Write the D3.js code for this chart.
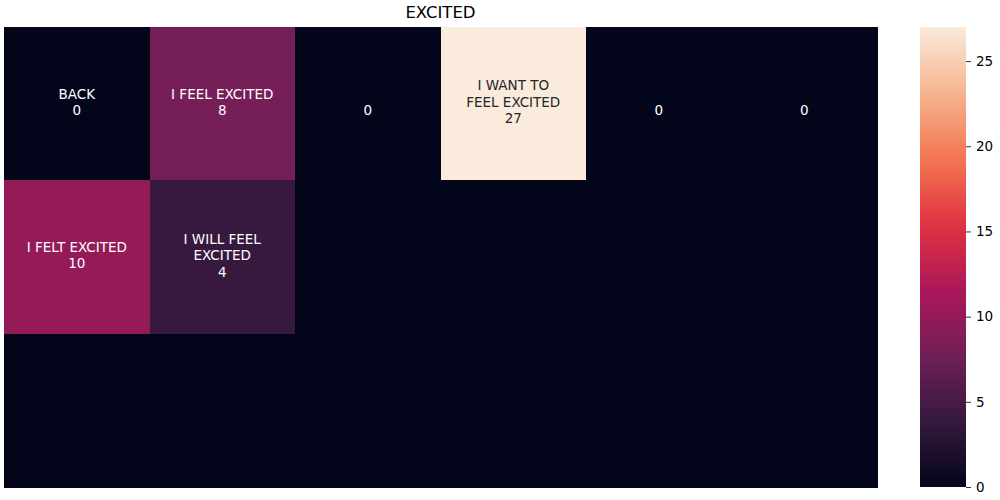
<!DOCTYPE html>
<html>
<head>
<meta charset="utf-8">
<script src="https://cdn.jsdelivr.net/npm/d3@7"></script>
<style>
  html, body { margin: 0; padding: 0; background: #fff; }
  svg { display: block; font-family: "DejaVu Sans", sans-serif; }
</style>
</head>
<body>
<svg id="chart" width="1000" height="500"></svg>
<script>
// ---- data ----
const title = "EXCITED";
const columns = [0, 1, 2, 3, 4, 5];
const rows = [0, 1, 2];
const row0Values = [0, 8, 0, 27, 0, 0];
const row1Values = [10, 4, 0, 0, 0, 0];
const row2Values = [0, 0, 0, 0, 0, 0];
const row0Labels = ["BACK\n0", "I FEEL EXCITED\n8", "\n0", "I WANT TO\nFEEL EXCITED\n27", "\n0", "\n0"];
const row1Labels = ["I FELT EXCITED\n10", "I WILL FEEL\nEXCITED\n4", "", "", "", ""];
const row2Labels = ["", "", "", "", "", ""];
const colorMin = 0;
const colorMax = 27;
const colorTicks = [0, 5, 10, 15, 20, 25];
// rocket colormap stops
const rocketStops = ["#03051a", "#35193e", "#701f57", "#ad1759", "#e13342", "#f37651", "#f6b48f", "#faebdd"];

const values = [row0Values, row1Values, row2Values];
const labels = [row0Labels, row1Labels, row2Labels];

const svg = d3.select("#chart");
const plot = { left: 4, right: 877, top: 27, bottom: 487 };
const cbar = { left: 920, right: 966 };

const x = d3.scaleBand().domain(columns).range([plot.left, plot.right]).padding(0);
const y = d3.scaleBand().domain(rows).range([plot.top, plot.bottom]).padding(0);

const rocket = d3.scaleLinear()
  .domain(rocketStops.map((_, i) => i / (rocketStops.length - 1)))
  .range(rocketStops)
  .interpolate(d3.interpolateRgb);
const color = v => rocket((v - colorMin) / (colorMax - colorMin));

const cells = [];
rows.forEach(r => columns.forEach(c => cells.push({ r, c, v: values[r][c], label: labels[r][c] })));

svg.append("g").selectAll("rect").data(cells).join("rect")
  .attr("x", d => x(d.c))
  .attr("y", d => y(d.r))
  .attr("width", x.bandwidth() + 0.5)
  .attr("height", y.bandwidth() + 0.5)
  .attr("fill", d => color(d.v))
  .attr("shape-rendering", "crispEdges");

// luminance-based text colour like seaborn
function relLum(c) {
  const rgb = d3.rgb(c);
  const f = v => { v /= 255; return v <= 0.03928 ? v / 12.92 : Math.pow((v + 0.055) / 1.055, 2.4); };
  return 0.2126 * f(rgb.r) + 0.7152 * f(rgb.g) + 0.0722 * f(rgb.b);
}

const lineH = 16.5;
const tg = svg.append("g").attr("font-size", "13.5px");
cells.filter(d => d.label !== "").forEach(d => {
  const lines = d.label.split("\n");
  const cx = x(d.c) + x.bandwidth() / 2;
  const cy = y(d.r) + y.bandwidth() / 2 - 1.5;
  const txt = tg.append("text")
    .attr("x", cx)
    .attr("text-anchor", "middle")
    .attr("fill", relLum(color(d.v)) > 0.408 ? "#262626" : "#ffffff");
  lines.forEach((ln, i) => {
    txt.append("tspan")
      .attr("x", cx)
      .attr("y", cy + (i - (lines.length - 1) / 2) * lineH)
      .attr("dy", "0.35em")
      .text(ln);
  });
});

// title
svg.append("text")
  .attr("x", (plot.left + plot.right) / 2)
  .attr("y", 18)
  .attr("text-anchor", "middle")
  .attr("font-size", "16.5px")
  .attr("fill", "#000")
  .text(title);

// colorbar
const defs = svg.append("defs");
const grad = defs.append("linearGradient").attr("id", "cbgrad")
  .attr("x1", 0).attr("y1", 1).attr("x2", 0).attr("y2", 0);
d3.range(0, 1.0001, 0.02).forEach(t => {
  grad.append("stop").attr("offset", t).attr("stop-color", rocket(t));
});
svg.append("rect")
  .attr("x", cbar.left).attr("y", plot.top)
  .attr("width", cbar.right - cbar.left)
  .attr("height", plot.bottom - plot.top)
  .attr("fill", "url(#cbgrad)");

const cscale = d3.scaleLinear().domain([colorMin, colorMax]).range([plot.bottom, plot.top]);
const axis = d3.axisRight(cscale).tickValues(colorTicks).tickSize(5).tickPadding(5).tickFormat(d3.format("d"));
const ag = svg.append("g").attr("transform", `translate(${cbar.right},0)`).call(axis);
ag.select(".domain").remove();
ag.selectAll(".tick line").attr("stroke", "#000").attr("stroke-width", 0.8);
ag.selectAll(".tick text").attr("font-size", "13.5px").attr("fill", "#000")
  .attr("font-family", "DejaVu Sans, sans-serif");
</script>
</body>
</html>
